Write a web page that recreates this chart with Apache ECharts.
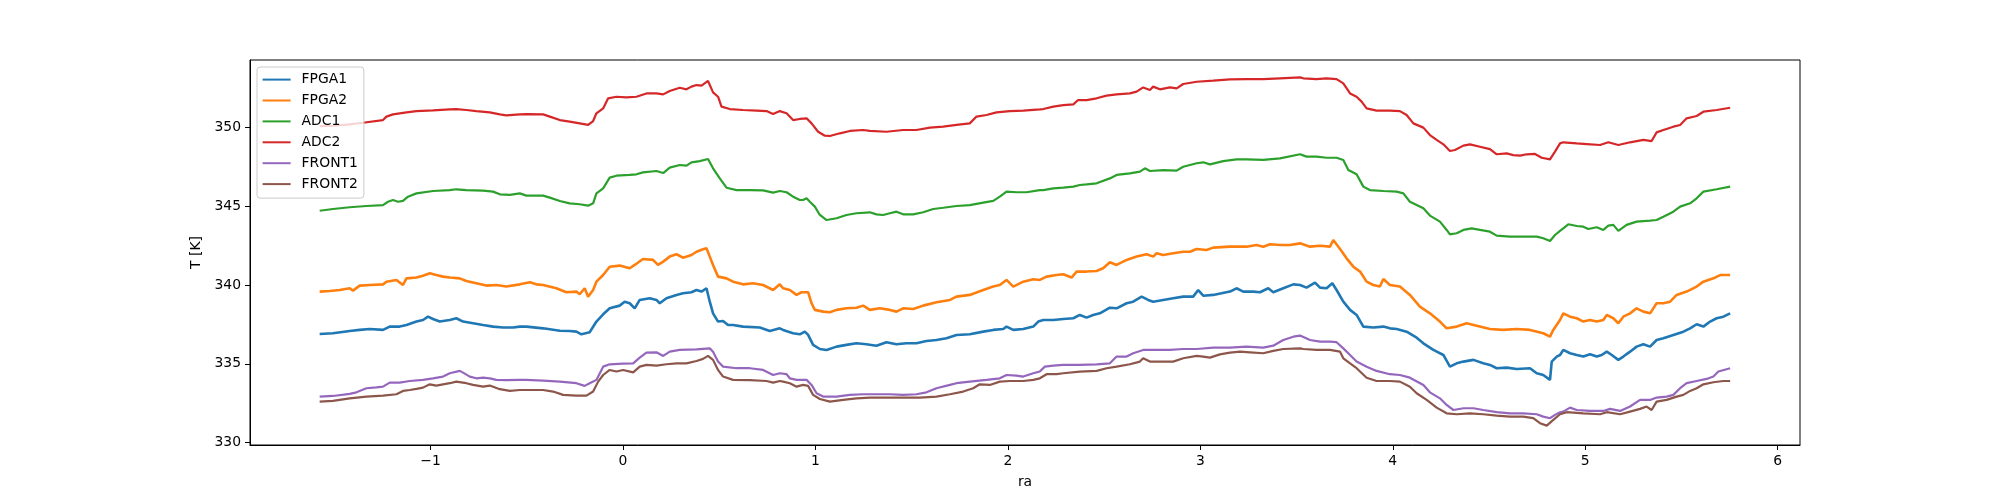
<!DOCTYPE html>
<html>
<head>
<meta charset="utf-8">
<title>T [K] vs ra</title>
<script src="https://cdn.jsdelivr.net/npm/echarts@6/dist/echarts.min.js"></script>
<style>
  html, body { margin: 0; padding: 0; background: #fff; }
  #chart { width: 2000px; height: 500px; }
</style>
</head>
<body>
<div id="chart"></div>
<script>
// legend order = draw order
const names = ['FPGA1', 'FPGA2', 'ADC1', 'ADC2', 'FRONT1', 'FRONT2'];
const colors = ['#1f77b4', '#ff7f0e', '#2ca02c', '#d62728', '#9467bd', '#8c564b'];
// the FPGA traces are noisier, so they look a bit heavier
const widths = [2.6, 2.6, 2.2, 2.2, 2.2, 2.2];

const xTicks = [-1, 0, 1, 2, 3, 4, 5, 6];
const yTicks = [330, 335, 340, 345, 350];

// [ra, T]
const fpga1 = [
  [-1.576,336.89],[-1.507,336.94],[-1.420,337.08],[-1.368,337.15],[-1.316,337.21],[-1.247,337.15],[-1.212,337.36],[-1.160,337.36],[-1.125,337.46],[-1.073,337.68],[-1.039,337.78],[-1.013,337.99],[-0.987,337.84],[-0.952,337.68],[-0.900,337.78],[-0.866,337.89],[-0.831,337.68],[-0.779,337.57],[-0.727,337.46],[-0.675,337.36],[-0.623,337.30],[-0.571,337.30],[-0.536,337.36],
  [-0.502,337.36],[-0.415,337.25],[-0.328,337.10],[-0.277,337.08],[-0.242,337.04],[-0.216,336.87],[-0.173,337.00],[-0.138,337.68],[-0.103,338.14],[-0.069,338.52],[-0.017,338.69],[0.009,338.94],[0.035,338.84],[0.061,338.52],[0.087,339.05],[0.139,339.16],[0.174,339.05],[0.191,338.84],[0.226,339.16],[0.278,339.37],[0.312,339.47],[0.356,339.54],[0.382,339.68],[0.408,339.58],[0.434,339.79],[0.451,338.94],[0.468,338.20],[0.494,337.68],[0.520,337.72],[0.546,337.46],[0.572,337.46],[0.624,337.36],[0.711,337.30],[0.763,337.08],[0.815,337.25],
  [0.832,337.15],[0.884,336.94],[0.919,336.87],[0.945,337.04],[0.962,336.83],[0.988,336.20],[1.023,335.94],[1.058,335.88],[1.110,336.09],[1.161,336.20],[1.213,336.30],[1.265,336.24],[1.317,336.15],[1.369,336.37],[1.421,336.24],[1.473,336.30],[1.525,336.30],[1.577,336.45],[1.629,336.51],[1.681,336.62],[1.733,336.83],[1.802,336.87],[1.872,337.04],[1.924,337.15],[1.976,337.21],[1.993,337.36],[2.028,337.15],[2.080,337.21],[2.132,337.36],[2.158,337.68],
  [2.184,337.78],[2.236,337.78],[2.288,337.84],[2.340,337.89],[2.374,338.10],[2.409,337.93],[2.443,338.10],[2.478,338.20],[2.530,338.56],[2.565,338.52],[2.617,338.84],[2.651,338.94],[2.695,339.26],[2.729,339.05],[2.755,338.94],[2.807,339.05],[2.859,339.16],[2.911,339.26],[2.963,339.26],[2.989,339.68],[3.015,339.32],[3.067,339.37],[3.110,339.47],[3.154,339.58],[3.188,339.79],[3.223,339.58],[3.275,339.58],[3.310,339.54],[3.353,339.79],[3.379,339.54],[3.431,339.79],[3.483,340.04],[3.518,340.00],
  [3.552,339.83],[3.596,340.15],[3.622,339.83],[3.656,339.79],[3.686,340.11],[3.708,339.68],[3.743,338.94],[3.778,338.42],[3.812,338.10],[3.847,337.36],[3.899,337.30],[3.951,337.36],[3.985,337.25],[4.020,337.21],[4.072,337.04],[4.124,336.66],[4.159,336.30],[4.211,335.88],[4.263,335.56],[4.297,334.82],[4.332,335.03],[4.367,335.14],[4.419,335.25],[4.470,335.03],[4.505,334.93],[4.540,334.72],[4.592,334.76],[4.644,334.67],[4.713,334.72],[4.748,334.40],[4.782,334.29],[4.817,333.98],[4.826,335.14],[4.852,335.46],[4.869,335.56],
  [4.886,335.88],[4.921,335.67],[4.956,335.56],[4.990,335.46],[5.025,335.60],[5.060,335.46],[5.086,335.56],[5.112,335.77],[5.138,335.56],[5.172,335.25],[5.198,335.46],[5.233,335.77],[5.267,336.09],[5.302,336.24],[5.337,336.09],[5.371,336.51],[5.406,336.62],[5.458,336.83],[5.510,337.04],[5.545,337.25],[5.579,337.51],[5.614,337.36],[5.649,337.68],[5.683,337.89],[5.718,337.99],[5.753,338.20]
];

const fpga2 = [
  [-1.576,339.58],[-1.524,339.62],[-1.472,339.68],[-1.420,339.79],[-1.403,339.64],[-1.368,339.96],[-1.316,340.00],[-1.247,340.04],[-1.229,340.21],[-1.177,340.32],[-1.143,340.00],[-1.125,340.42],[-1.073,340.47],[-1.039,340.59],[-1.004,340.74],[-0.970,340.63],[-0.935,340.53],[-0.900,340.47],[-0.848,340.42],[-0.814,340.25],[-0.762,340.11],[-0.710,339.96],[-0.658,340.00],[-0.606,339.90],[-0.536,340.04],
  [-0.484,340.17],[-0.450,340.04],[-0.415,340.00],[-0.346,339.79],[-0.294,339.54],[-0.242,339.58],[-0.225,339.41],[-0.199,339.79],[-0.181,339.26],[-0.155,339.68],[-0.138,340.21],[-0.103,340.63],[-0.069,341.16],[-0.017,341.23],[0.035,341.06],[0.061,341.27],[0.104,341.65],[0.156,341.59],[0.182,341.27],[0.209,341.48],[0.243,341.80],[0.278,341.95],[0.312,341.73],[0.356,341.90],[0.382,342.11],[0.416,342.26],[0.434,342.33],[0.451,341.80],[0.468,341.27],[0.494,340.53],[0.538,340.42],[0.572,340.21],[0.624,340.04],[0.676,340.11],[0.728,340.00],[0.780,339.68],[0.815,340.04],
  [0.832,339.79],[0.867,339.68],[0.902,339.37],[0.928,339.54],[0.962,339.54],[0.980,338.84],[0.997,338.42],[1.040,338.31],[1.075,338.27],[1.110,338.42],[1.161,338.52],[1.213,338.56],[1.248,338.69],[1.283,338.42],[1.335,338.52],[1.387,338.42],[1.421,338.31],[1.456,338.52],[1.508,338.48],[1.560,338.69],[1.629,338.90],[1.699,339.05],[1.733,339.26],[1.802,339.37],[1.872,339.68],[1.924,339.90],[1.958,340.00],[1.993,340.32],[2.028,339.90],[2.080,340.21],[2.132,340.36],[2.166,340.32],
  [2.201,340.53],[2.253,340.63],[2.288,340.68],[2.331,340.47],[2.357,340.85],[2.409,340.85],[2.461,340.89],[2.495,341.06],[2.530,341.44],[2.565,341.27],[2.617,341.59],[2.669,341.80],[2.721,341.95],[2.755,341.80],[2.773,342.01],[2.807,341.90],[2.859,342.01],[2.911,342.11],[2.946,342.11],[2.981,342.28],[3.032,342.22],[3.067,342.37],[3.154,342.43],[3.240,342.43],[3.292,342.54],[3.327,342.43],[3.362,342.58],[3.414,342.54],[3.466,342.54],[3.518,342.64],
  [3.570,342.43],[3.622,342.49],[3.674,342.43],[3.691,342.85],[3.726,342.28],[3.760,341.69],[3.795,341.16],[3.830,340.85],[3.864,340.21],[3.899,340.00],[3.933,339.90],[3.951,340.38],[3.985,340.00],[4.037,339.90],[4.089,339.37],[4.141,338.63],[4.193,338.20],[4.245,337.68],[4.280,337.25],[4.332,337.36],[4.384,337.57],[4.436,337.42],[4.505,337.21],[4.574,337.15],[4.644,337.21],[4.713,337.15],[4.782,336.94],[4.817,336.72],[4.834,337.15],[4.869,337.78],
  [4.886,338.20],[4.921,337.99],[4.956,337.89],[4.990,337.68],[5.025,337.78],[5.060,337.68],[5.094,337.78],[5.112,338.10],[5.146,337.89],[5.172,337.57],[5.198,337.99],[5.233,338.20],[5.267,338.52],[5.302,338.31],[5.337,338.20],[5.371,338.84],[5.406,338.84],[5.441,338.94],[5.475,339.37],[5.527,339.58],[5.579,339.90],[5.614,340.21],[5.666,340.42],[5.701,340.63],[5.753,340.63]
];

const adc1 = [
  [-1.576,344.71],[-1.507,344.82],[-1.420,344.93],[-1.333,345.01],[-1.247,345.07],[-1.221,345.28],[-1.195,345.39],[-1.169,345.28],[-1.143,345.33],[-1.117,345.60],[-1.073,345.81],[-0.987,345.96],[-0.900,346.02],[-0.866,346.07],[-0.814,346.02],[-0.727,345.98],[-0.675,345.92],[-0.640,345.75],[-0.588,345.71],[-0.536,345.81],
  [-0.502,345.67],[-0.415,345.67],[-0.380,345.54],[-0.328,345.33],[-0.277,345.18],[-0.225,345.12],[-0.181,345.03],[-0.155,345.18],[-0.138,345.81],[-0.103,346.13],[-0.069,346.81],[-0.034,346.93],[0.035,346.98],[0.070,347.02],[0.104,347.14],[0.174,347.23],[0.209,347.10],[0.243,347.44],[0.295,347.61],[0.330,347.57],[0.356,347.78],[0.399,347.86],[0.442,347.99],[0.468,347.40],[0.503,346.76],[0.538,346.17],[0.590,346.02],[0.659,346.02],[0.728,346.00],[0.780,345.86],[0.815,345.96],
  [0.850,345.88],[0.884,345.60],[0.919,345.39],[0.936,345.39],[0.954,345.50],[0.971,345.28],[0.997,344.97],[1.023,344.44],[1.058,344.12],[1.110,344.23],[1.161,344.44],[1.213,344.55],[1.283,344.61],[1.317,344.48],[1.352,344.44],[1.387,344.55],[1.421,344.65],[1.456,344.48],[1.508,344.48],[1.560,344.61],[1.612,344.82],[1.664,344.90],[1.733,345.01],[1.802,345.07],[1.872,345.22],[1.924,345.33],[1.958,345.60],[1.993,345.92],[2.045,345.88],[2.097,345.88],[2.166,346.02],
  [2.184,346.02],[2.236,346.13],[2.288,346.17],[2.340,346.24],[2.374,346.34],[2.409,346.38],[2.461,346.45],[2.530,346.76],[2.565,346.98],[2.634,347.08],[2.686,347.19],[2.712,347.40],[2.738,347.23],[2.807,347.29],[2.877,347.25],[2.911,347.50],[2.981,347.72],[3.015,347.78],[3.050,347.65],[3.119,347.86],[3.188,347.97],[3.240,347.97],[3.327,347.93],[3.414,348.03],[3.518,348.29],
  [3.552,348.14],[3.604,348.14],[3.656,348.07],[3.708,348.07],[3.743,347.93],[3.769,347.29],[3.812,347.02],[3.847,346.24],[3.881,346.02],[3.951,345.96],[4.020,345.92],[4.055,345.81],[4.089,345.28],[4.124,345.07],[4.159,344.86],[4.193,344.40],[4.245,344.02],[4.280,343.49],[4.297,343.21],[4.332,343.28],[4.367,343.49],[4.410,343.59],[4.453,343.49],[4.505,343.38],[4.540,343.13],[4.609,343.07],[4.678,343.07],[4.748,343.07],[4.782,342.96],[4.817,342.79],[4.843,343.17],[4.869,343.43],
  [4.886,343.59],[4.912,343.85],[4.956,343.74],[4.990,343.70],[5.016,343.55],[5.060,343.66],[5.094,343.49],[5.120,343.76],[5.146,343.81],[5.172,343.43],[5.215,343.81],[5.267,344.02],[5.337,344.08],[5.371,344.12],[5.406,344.33],[5.458,344.65],[5.493,344.97],[5.545,345.18],[5.579,345.50],[5.614,345.92],[5.683,346.07],[5.753,346.24]
];

const adc2 = [
  [-1.576,350.08],[-1.507,350.10],[-1.420,350.19],[-1.351,350.29],[-1.247,350.46],[-1.229,350.68],[-1.195,350.82],[-1.125,350.95],[-1.073,351.03],[-0.987,351.08],[-0.900,351.14],[-0.866,351.16],[-0.814,351.10],[-0.762,351.03],[-0.692,350.95],[-0.640,350.82],[-0.606,350.76],[-0.536,350.82],
  [-0.502,350.84],[-0.415,350.82],[-0.380,350.68],[-0.328,350.46],[-0.277,350.36],[-0.225,350.25],[-0.181,350.15],[-0.155,350.40],[-0.138,350.89],[-0.103,351.20],[-0.077,351.84],[-0.034,351.94],[0.018,351.90],[0.070,351.94],[0.122,352.15],[0.174,352.15],[0.209,352.09],[0.243,352.30],[0.295,352.51],[0.330,352.41],[0.356,352.58],[0.382,352.68],[0.408,352.64],[0.442,352.94],[0.468,352.22],[0.494,351.94],[0.512,351.31],[0.555,351.16],[0.624,351.10],[0.694,351.06],[0.746,351.03],[0.780,350.84],[0.815,351.03],
  [0.850,350.89],[0.884,350.46],[0.919,350.53],[0.954,350.57],[0.980,350.25],[1.014,349.72],[1.049,349.47],[1.075,349.45],[1.127,349.62],[1.179,349.77],[1.248,349.83],[1.283,349.77],[1.369,349.72],[1.456,349.83],[1.525,349.83],[1.595,349.98],[1.664,350.04],[1.733,350.15],[1.802,350.25],[1.837,350.68],[1.889,350.78],[1.941,350.95],[2.010,351.03],[2.080,351.06],[2.166,351.14],
  [2.184,351.16],[2.236,351.31],[2.288,351.41],[2.340,351.46],[2.365,351.73],[2.409,351.73],[2.461,351.84],[2.513,352.01],[2.565,352.09],[2.634,352.15],[2.669,352.26],[2.703,352.53],[2.738,352.37],[2.755,352.58],[2.790,352.41],[2.842,352.53],[2.877,352.47],[2.911,352.75],[2.981,352.89],[3.067,352.96],[3.154,353.04],[3.240,353.06],[3.327,353.06],[3.414,353.11],[3.518,353.17],
  [3.535,353.11],[3.604,353.06],[3.656,353.11],[3.708,353.06],[3.743,352.79],[3.778,352.15],[3.812,351.94],[3.838,351.63],[3.864,351.20],[3.916,351.06],[3.985,351.06],[4.037,351.03],[4.072,350.78],[4.107,350.25],[4.159,349.98],[4.193,349.51],[4.228,349.20],[4.263,348.92],[4.297,348.50],[4.323,348.56],[4.367,348.84],[4.401,348.92],[4.453,348.77],[4.505,348.62],[4.540,348.29],[4.592,348.35],[4.626,348.24],[4.661,348.20],[4.696,348.29],[4.739,348.31],[4.774,348.07],[4.817,347.97],[4.843,348.46],[4.869,348.98],
  [4.886,349.05],[4.956,348.98],[5.008,348.94],[5.077,348.88],[5.120,349.05],[5.172,348.88],[5.233,349.05],[5.302,349.20],[5.345,349.13],[5.371,349.68],[5.406,349.83],[5.458,350.04],[5.493,350.15],[5.527,350.57],[5.579,350.72],[5.614,350.99],[5.683,351.10],[5.753,351.24]
];

const front1 = [
  [-1.576,332.92],[-1.507,332.96],[-1.420,333.09],[-1.385,333.19],[-1.333,333.45],[-1.281,333.51],[-1.247,333.55],[-1.212,333.81],[-1.160,333.81],[-1.108,333.91],[-1.039,333.98],[-0.987,334.08],[-0.935,334.19],[-0.900,334.40],[-0.848,334.55],[-0.831,334.44],[-0.796,334.19],[-0.762,334.08],[-0.727,334.12],[-0.692,334.08],[-0.658,333.98],[-0.606,333.96],[-0.536,333.98],
  [-0.502,333.98],[-0.415,333.93],[-0.328,333.87],[-0.242,333.77],[-0.199,333.60],[-0.173,333.77],[-0.138,333.98],[-0.103,334.82],[-0.069,334.97],[0.001,335.01],[0.053,335.03],[0.087,335.39],[0.122,335.71],[0.174,335.73],[0.209,335.50],[0.243,335.77],[0.295,335.88],[0.382,335.92],[0.451,335.98],[0.468,335.77],[0.494,335.14],[0.520,334.82],[0.590,334.72],[0.659,334.72],[0.728,334.61],[0.780,334.29],[0.815,334.40],
  [0.850,334.34],[0.867,334.08],[0.902,333.98],[0.954,333.98],[0.980,333.66],[1.006,333.13],[1.040,332.92],[1.110,332.92],[1.179,333.03],[1.248,333.07],[1.317,333.07],[1.387,333.07],[1.456,333.03],[1.525,333.07],[1.577,333.19],[1.629,333.45],[1.699,333.66],[1.733,333.77],[1.802,333.87],[1.889,333.98],[1.958,334.08],[1.993,334.29],[2.045,334.25],[2.080,334.19],[2.132,334.40],[2.166,334.51],
  [2.192,334.82],[2.236,334.89],[2.288,334.93],[2.374,334.93],[2.461,334.97],[2.530,335.03],[2.565,335.46],[2.617,335.46],[2.651,335.67],[2.703,335.88],[2.773,335.88],[2.842,335.88],[2.911,335.94],[2.981,335.94],[3.067,336.03],[3.154,336.03],[3.240,336.09],[3.327,336.03],[3.379,336.15],[3.431,336.51],[3.483,336.72],[3.518,336.79],
  [3.570,336.51],[3.622,336.41],[3.674,336.41],[3.708,336.37],[3.743,335.98],[3.778,335.56],[3.812,335.14],[3.864,334.82],[3.916,334.55],[3.985,334.34],[4.037,334.29],[4.089,334.12],[4.159,333.66],[4.193,333.19],[4.245,332.81],[4.280,332.39],[4.315,332.07],[4.367,332.18],[4.419,332.18],[4.470,332.07],[4.540,331.93],[4.609,331.86],[4.678,331.86],[4.748,331.80],[4.782,331.65],[4.817,331.55],[4.843,331.76],[4.869,331.93],
  [4.886,331.97],[4.921,332.22],[4.956,332.07],[5.025,332.01],[5.094,332.01],[5.129,332.14],[5.181,332.01],[5.233,332.29],[5.285,332.71],[5.337,332.71],[5.371,332.86],[5.423,332.92],[5.458,333.03],[5.493,333.45],[5.527,333.77],[5.579,333.91],[5.631,334.04],[5.666,334.19],[5.692,334.51],[5.753,334.72]
];

const front2 = [
  [-1.576,332.60],[-1.507,332.65],[-1.420,332.81],[-1.333,332.92],[-1.247,332.98],[-1.177,333.07],[-1.143,333.28],[-1.108,333.34],[-1.073,333.41],[-1.039,333.49],[-1.004,333.70],[-0.970,333.62],[-0.900,333.77],[-0.866,333.87],[-0.814,333.77],[-0.779,333.66],[-0.727,333.55],[-0.692,333.62],[-0.640,333.39],[-0.588,333.28],[-0.536,333.34],
  [-0.484,333.34],[-0.415,333.34],[-0.363,333.24],[-0.311,333.03],[-0.242,332.98],[-0.190,332.98],[-0.155,333.24],[-0.129,333.87],[-0.103,334.29],[-0.069,334.61],[-0.034,334.51],[0.001,334.61],[0.053,334.46],[0.087,334.82],[0.122,334.93],[0.174,334.89],[0.226,334.97],[0.278,335.03],[0.330,335.03],[0.382,335.18],[0.416,335.31],[0.442,335.50],[0.468,335.25],[0.494,334.61],[0.520,334.19],[0.572,333.98],[0.659,333.96],[0.746,333.91],[0.780,333.81],[0.815,333.91],
  [0.832,333.87],[0.867,333.77],[0.902,333.55],[0.936,333.66],[0.962,333.60],[0.988,333.03],[1.023,332.77],[1.075,332.60],[1.144,332.71],[1.213,332.81],[1.283,332.86],[1.369,332.86],[1.456,332.86],[1.543,332.86],[1.629,332.92],[1.699,333.07],[1.768,333.24],[1.820,333.45],[1.854,333.70],[1.906,333.66],[1.958,333.87],[2.010,333.91],[2.080,333.91],[2.132,333.98],[2.166,334.08],
  [2.201,334.34],[2.253,334.34],[2.288,334.40],[2.374,334.51],[2.461,334.55],[2.513,334.72],[2.565,334.82],[2.634,334.97],[2.686,335.14],[2.703,335.35],[2.738,335.14],[2.807,335.14],[2.859,335.14],[2.911,335.35],[2.981,335.50],[3.015,335.46],[3.050,335.39],[3.102,335.60],[3.154,335.71],[3.206,335.77],[3.258,335.73],[3.327,335.67],[3.379,335.82],[3.431,335.94],[3.518,335.98],
  [3.535,335.94],[3.604,335.88],[3.674,335.88],[3.726,335.77],[3.743,335.35],[3.778,335.03],[3.812,334.72],[3.864,334.12],[3.916,333.91],[3.985,333.91],[4.037,333.87],[4.089,333.55],[4.124,333.13],[4.176,332.71],[4.228,332.22],[4.280,331.86],[4.332,331.80],[4.401,331.86],[4.470,331.80],[4.540,331.71],[4.609,331.65],[4.678,331.65],[4.730,331.55],[4.765,331.23],[4.800,331.08],[4.834,331.44],[4.869,331.80],
  [4.904,331.93],[4.990,331.86],[5.077,331.80],[5.112,331.93],[5.181,331.80],[5.233,331.97],[5.285,332.14],[5.319,332.29],[5.345,332.07],[5.371,332.60],[5.423,332.71],[5.475,332.92],[5.510,333.03],[5.545,333.28],[5.579,333.45],[5.614,333.70],[5.666,333.83],[5.718,333.91],[5.753,333.91]
];

const seriesData = [fpga1, fpga2, adc1, adc2, front1, front2];

const font = 'DejaVu Sans';
const fs = 13.9;
const minus = v => (v < 0 ? '\u2212' + Math.abs(v) : String(v));

const chart = echarts.init(document.getElementById('chart'), null, { renderer: 'canvas' });

const option = {
  backgroundColor: '#ffffff',
  animation: false,
  grid: {
    left: 250, right: 200, top: 60, bottom: 55,
    show: true, borderColor: '#000', borderWidth: 1, backgroundColor: 'transparent'
  },
  legend: {
    orient: 'vertical',
    left: 257, top: 67,
    data: names,
    icon: 'rect',
    itemWidth: 28, itemHeight: 2,
    itemGap: 6.9,
    padding: [5.6, 6, 7, 5.6],
    backgroundColor: 'rgba(255,255,255,0.8)',
    borderColor: '#cccccc', borderWidth: 1, borderRadius: 3,
    textStyle: { fontFamily: font, fontSize: fs, color: '#000', lineHeight: 14, padding: [0, 0, 0, 6] }
  },
  xAxis: {
    type: 'value',
    min: -1.938, max: 6.116,
    name: 'ra', nameLocation: 'middle', nameGap: 30,
    nameTextStyle: { fontFamily: font, fontSize: fs, color: '#000' },
    axisLine: { onZero: false, lineStyle: { color: '#000', width: 1 } },
    axisTick: { show: true, inside: false, length: 5, customValues: xTicks, lineStyle: { color: '#000', width: 1 } },
    axisLabel: { customValues: xTicks, margin: 9, fontFamily: font, fontSize: fs, color: '#000', formatter: minus },
    splitLine: { show: false }
  },
  yAxis: {
    type: 'value',
    min: 329.85, max: 354.27,
    name: 'T [K]', nameLocation: 'middle', nameGap: 43, nameRotate: 90,
    nameTextStyle: { fontFamily: font, fontSize: fs, color: '#000' },
    axisLine: { show: true, onZero: false, lineStyle: { color: '#000', width: 1 } },
    axisTick: { show: true, inside: false, length: 5, customValues: yTicks, lineStyle: { color: '#000', width: 1 } },
    axisLabel: { customValues: yTicks, margin: 9, fontFamily: font, fontSize: fs, color: '#000' },
    splitLine: { show: false }
  },
  series: names.map((name, i) => ({
    name: name,
    type: 'line',
    data: seriesData[i],
    symbol: 'none',
    showSymbol: false,
    smooth: false,
    color: colors[i],
    lineStyle: { color: colors[i], width: widths[i] },
    emphasis: { disabled: true }
  }))
};

chart.setOption(option);
</script>
</body>
</html>
